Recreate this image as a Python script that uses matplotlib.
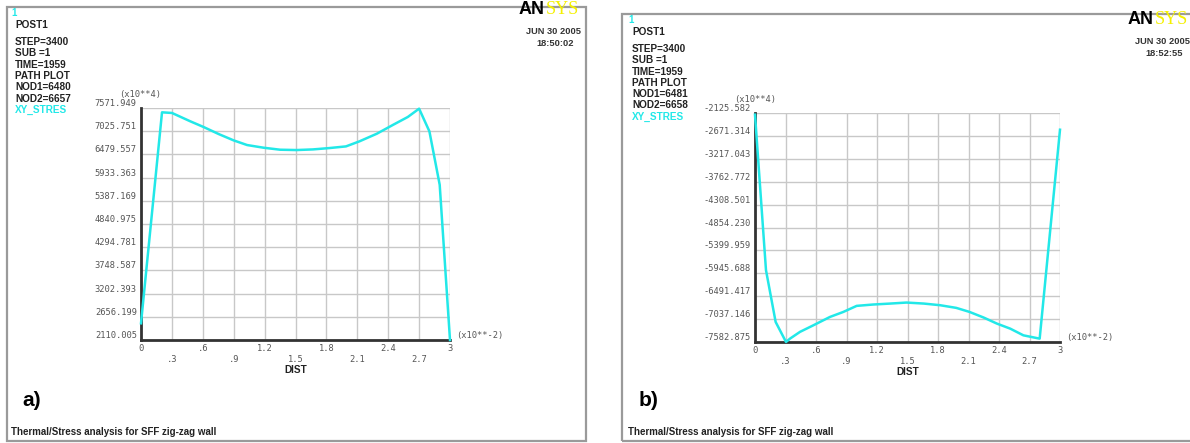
import numpy as np
import matplotlib
matplotlib.use("Agg")
import matplotlib.pyplot as plt
from matplotlib.patches import Rectangle

W, H = 1190, 443

# path distance (x10**-2) and XY stress (x10**4) along the two paths
dist_a = [0.0, 0.204, 0.301, 0.479, 0.608, 0.754, 0.899, 1.03, 1.19, 1.35, 1.51,
          1.67, 1.83, 1.99, 2.12, 2.29, 2.45, 2.59, 2.70, 2.80, 2.90, 3.0]
stress_a = [2503, 7470, 7455, 7258, 7124, 6959, 6810, 6700, 6637, 6590, 6582,
            6597, 6629, 6668, 6786, 6967, 7179, 7360, 7556, 7022, 5764, 2110]

dist_b = [0.0, 0.108, 0.203, 0.305, 0.344, 0.443, 0.574, 0.738, 0.869, 1.0, 1.16,
          1.33, 1.49, 1.66, 1.82, 1.98, 2.11, 2.25, 2.38, 2.51, 2.64, 2.80, 3.0]
stress_b = [-2165, -5870, -7105, -7582, -7503, -7341, -7185, -6985, -6866, -6722, -6690,
            -6667, -6643, -6667, -6706, -6770, -6866, -7001, -7145, -7264, -7424, -7503, -2524]

yticks_a = [2110.005, 2656.199, 3202.393, 3748.587, 4294.781, 4840.975,
            5387.169, 5933.363, 6479.557, 7025.751, 7571.949]
yticks_b = [-7582.875, -7037.146, -6491.417, -5945.688, -5399.959, -4854.230,
            -4308.501, -3762.772, -3217.043, -2671.314, -2125.582]
xticks = [0, 0.3, 0.6, 0.9, 1.2, 1.5, 1.8, 2.1, 2.4, 2.7, 3.0]
xlabels = ["0", ".3", ".6", ".9", "1.2", "1.5", "1.8", "2.1", "2.4", "2.7", "3"]

header_a = ["STEP=3400", "SUB =1", "TIME=1959", "PATH PLOT", "NOD1=6480", "NOD2=6657"]
header_b = ["STEP=3400", "SUB =1", "TIME=1959", "PATH PLOT", "NOD1=6481", "NOD2=6658"]

CYAN = "#22e8e8"
SANS = "Liberation Sans"
MONO = "DejaVu Sans Mono"


def fx(x):
    return x / W


def fy(y):
    return 1 - y / H


fig = plt.figure(figsize=(W / 100, H / 100), dpi=100)


def panel(ox, oy, frame, ax_box, xs, ys, yt, header, letter, stamp):
    # outer window frame
    x0, y0, x1, y1 = frame
    fig.patches.append(Rectangle((fx(x0), fy(y1)), fx(x1 - x0), (y1 - y0) / H,
                                 transform=fig.transFigure, fill=False,
                                 edgecolor="#9a9a9a", lw=1.6))
    fig.text(fx(ox - 4), fy(oy - 12), "1", color=CYAN, fontsize=7, family=SANS,
             fontweight="bold", va="center")
    fig.text(fx(ox), fy(oy), "POST1", fontsize=7.2, family=SANS, fontweight="bold",
             va="center", color="#222")
    for i, line in enumerate(header):
        fig.text(fx(ox), fy(oy + 17 + i * 11.3), line, fontsize=7.2, family=SANS,
                 fontweight="bold", va="center", color="#222")
    fig.text(fx(ox), fy(oy + 17 + 6 * 11.3), "XY_STRES", fontsize=7.2, family=SANS,
             fontweight="bold", va="center", color=CYAN)

    # logo and time stamp
    lx, ly, date, clock = stamp
    fig.text(fx(lx), fy(ly), "AN", fontsize=13, family=SANS, fontweight="bold",
             va="center", color="black")
    fig.text(fx(lx + 27), fy(ly), "SYS", fontsize=13, family="Liberation Serif",
             va="center", color="#f4f000")
    fig.text(fx(lx + 62), fy(ly + 22), date, fontsize=6.7, family=SANS,
             fontweight="bold", va="center", ha="right", color="#333")
    fig.text(fx(lx + 55), fy(ly + 33), clock, fontsize=6.7, family=SANS,
             fontweight="bold", va="center", ha="right", color="#333")

    fig.text(fx(ox + 7), fy(400), letter, fontsize=15, family=SANS,
             fontweight="bold", va="center")
    fig.text(fx(ox - 4), fy(432), "Thermal/Stress analysis for SFF zig-zag wall",
             fontsize=7, family=SANS, fontweight="bold", va="center", color="#222")

    # path plot
    l, t_, r, b = ax_box
    ax = fig.add_axes([fx(l), fy(b), fx(r - l), (b - t_) / H])
    ax.plot(xs, ys, color=CYAN, lw=1.8, clip_on=False, zorder=3)
    ax.set_xlim(0, 3)
    ax.set_ylim(yt[0], yt[-1])
    ax.set_xticks(xticks)
    ax.set_xticklabels([lab if i % 2 == 0 else "\n" + lab for i, lab in enumerate(xlabels)])
    ax.set_yticks(yt)
    ax.set_yticklabels([f"{v:.3f}" for v in yt])
    ax.grid(True, color="#c8c8c8", lw=1.0)
    ax.set_axisbelow(True)
    for s in ["top", "right"]:
        ax.spines[s].set_visible(False)
    for s in ["left", "bottom"]:
        ax.spines[s].set_color("#333")
        ax.spines[s].set_linewidth(2.0)
    ax.tick_params(length=0, pad=3, labelsize=6.3, labelcolor="#555")
    for lab in ax.get_xticklabels() + ax.get_yticklabels():
        lab.set_family(MONO)
    for lab in ax.get_yticklabels():
        lab.set_verticalalignment("bottom")
    ax.set_xlabel("DIST", fontsize=7.2, family=SANS, fontweight="bold", labelpad=1,
                  color="#222")
    ax.text(-0.07, 1.06, "(x10**4)", transform=ax.transAxes, fontsize=6.3,
            family=MONO, color="#555", va="center")
    ax.text(1.02, 0.02, "(x10**-2)", transform=ax.transAxes, fontsize=6.3,
            family=MONO, color="#555", va="center")
    return ax


panel(15, 25, (7, 7, 586, 441), (141, 108, 450, 340), dist_a, stress_a, yticks_a,
      header_a, "a)", (519, 10, "JUN 30 2005", "18:50:02"))
panel(632, 32, (622, 14, 1195, 441), (755, 113, 1060, 342), dist_b, stress_b, yticks_b,
      header_b, "b)", (1128, 20, "JUN 30 2005", "18:52:55"))

fig.savefig("out.png", dpi=100)
